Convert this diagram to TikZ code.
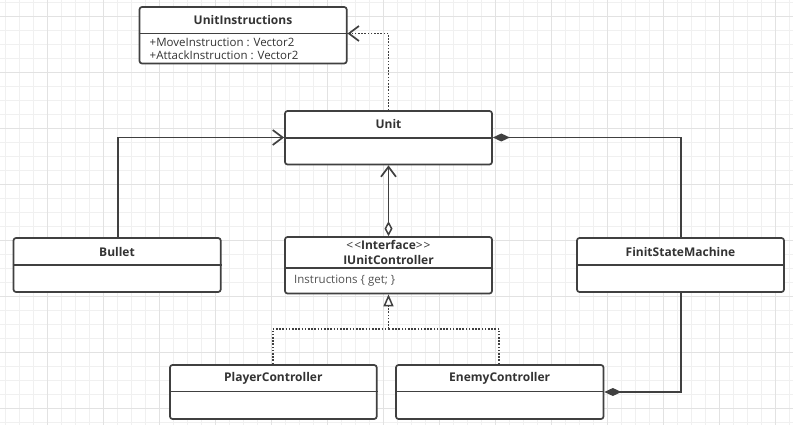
\documentclass[tikz,border=0pt]{standalone}
\usepackage{fontspec}
\setmainfont{Open Sans}
\usetikzlibrary{arrows.meta,fit}
\definecolor{ln}{HTML}{404040}
\definecolor{tx}{HTML}{333333}
\definecolor{gminor}{HTML}{F0F0F0}
\definecolor{gmajor}{HTML}{E2E2E2}
\tikzset{
  cls/.style={draw=ln, line width=1.7pt, rounded corners=2.5pt, inner sep=0pt, fill=white},
  divl/.style={draw=ln, line width=1.7pt},
  ttl/.style={text=tx, font=\fontsize{12}{14}\selectfont\bfseries, inner sep=0pt},
  mem/.style={text=tx, font=\fontsize{11.5}{14}\selectfont, inner sep=0pt, anchor=west},
  conn/.style={draw=ln, line width=1.7pt},
  dotl/.style={draw=ln, line width=1.7pt, dash pattern=on 1.6pt off 1.6pt},
  vee/.tip={Straight Barb[length=10pt,width=15pt,line width=1.7pt]},
  fdia/.tip={Diamond[length=17pt,width=8pt,fill=ln]},
  odia/.tip={Diamond[length=15pt,width=8pt,open,fill=white,line width=1.5pt]},
  otri/.tip={Triangle[length=12pt,width=10pt,open,fill=white,line width=1.5pt]},
}
\newcommand\umlbox[6]{%
  \node[cls, fit={(#2,#3) (#4,#5)}] (#1) {};
  \draw[divl] (#1.west |- 0,#6) -- (#1.east |- 0,#6);
}
\begin{document}
\begin{tikzpicture}[x=1pt,y=-1pt]
\useasboundingbox (0,0) rectangle (793,425);
\fill[white] (0,0) rectangle (793,425);
\foreach \x in {5,19,...,793} \draw[gminor, line width=0.8pt] (\x,0) -- (\x,425);
\foreach \y in {2,16,...,425} \draw[gminor, line width=0.8pt] (0,\y) -- (793,\y);
\foreach \x in {47,103,...,793} \draw[gmajor, line width=0.9pt] (\x,0) -- (\x,425);
\foreach \y in {16,72,...,425} \draw[gmajor, line width=0.9pt] (0,\y) -- (793,\y);

% boxes
\umlbox{ui}{139.5}{7}{346.7}{63.5}{33.5}
\node[ttl] (uit) at (243,20) {UnitInstructions};
\node[mem] (uim1) at (149.5,42.5) {+MoveInstruction : Vector2};
\node[mem] (uim2) at (149.5,55.5) {+AttackInstruction : Vector2};

\umlbox{unit}{285}{111}{492}{164.5}{138}
\node[ttl] (unitt) at (388.5,124.5) {Unit};

\umlbox{iuc}{285}{237}{492}{293.5}{268}
\node[ttl] (iuct1) at (388.5,245) {{\mdseries <\kern1pt<}Interface{\mdseries >\kern1pt>}};
\node[ttl] (iuct2) at (388.5,260) {IUnitController};
\node[mem, text=tx!85] (iucm) at (294,281) {Instructions \{ get; \}};

\umlbox{bul}{13.5}{238}{220.7}{292}{265}
\node[ttl] (bult) at (117,251.5) {Bullet};

\umlbox{fsm}{577}{238}{784}{292}{265}
\node[ttl] (fsmt) at (680.5,251.5) {FinitStateMachine};

\umlbox{pc}{170}{365}{376.7}{419}{391.5}
\node[ttl] (pct) at (273.3,378) {PlayerController};

\umlbox{ec}{396}{365}{603.5}{419}{391.5}
\node[ttl] (ect) at (499.7,378) {EnemyController};

% connectors
\draw[dotl, -vee] (unit.north -| 388.5,0) |- (ui.east |- 0,33.5);
\draw[conn, -vee] (bul.north -| 118,0) |- (unit.west |- 0,137.5);
\draw[conn, -fdia] (fsm.north -| 681,0) |- (unit.east |- 0,137.5);
\draw[conn, -fdia] (fsm.south -| 681,0) |- (ec.east |- 0,392);
\draw[conn, odia-vee] (iuc.north -| 388.5,0) -- (unit.south -| 388.5,0);
\coordinate (j) at (388.5,329);
\draw[dotl] (pc.north -| 272.7,0) |- (j);
\draw[dotl] (ec.north -| 499.3,0) |- (j);
\draw[dotl, -otri] (j) -- (iuc.south -| 388.5,0);
\end{tikzpicture}
\end{document}
